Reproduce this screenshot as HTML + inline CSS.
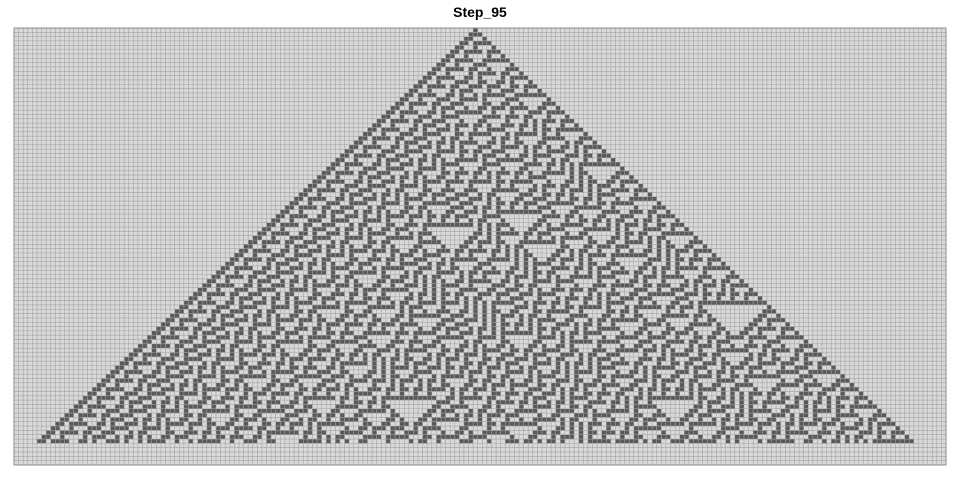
<!DOCTYPE html>
<html><head><meta charset="utf-8"><style>
html,body{margin:0;padding:0;background:#fff;width:960px;height:480px;overflow:hidden}
#title{position:absolute;left:0;width:960px;top:4px;text-align:center;font:bold 14px "Liberation Sans",sans-serif;color:#000}
svg{position:absolute;left:0;top:0}
</style></head><body>
<div id="title">Step_95</div>
<svg id="chart" width="960" height="480"></svg>
<script>
const ruleNumber = [30];
const stepCount = [95];
const gridSize = [203, 101];
const seedColumn = [100];

const X0 = 14, Y0 = 28, W = 932, H = 437;
const cols = gridSize[0], rows = gridSize[1];
const cw = W / cols, ch = H / rows;
const xs = c => X0 + c * cw;
const ys = r => Y0 + r * ch;
const NS = 'http://www.w3.org/2000/svg';
const svg = document.getElementById('chart');

const bg = document.createElementNS(NS, 'rect');
bg.setAttribute('x', X0); bg.setAttribute('y', Y0);
bg.setAttribute('width', W); bg.setAttribute('height', H);
bg.setAttribute('fill', '#d9d9d9');


svg.appendChild(bg);

// compute automaton
let row = new Array(cols).fill(0);
row[seedColumn[0]] = 1;
const rule = ruleNumber[0];
let d = '';
for (let r = 0; r <= stepCount[0] && r < rows; r++) {
  for (let c = 0; c < cols; c++) {
    if (row[c]) d += 'M' + xs(c).toFixed(2) + ' ' + ys(r).toFixed(2) + 'h' + cw.toFixed(3) + 'v' + ch.toFixed(3) + 'h' + (-cw).toFixed(3) + 'z';
  }
  const next = new Array(cols).fill(0);
  for (let c = 0; c < cols; c++) {
    const l = c > 0 ? row[c-1] : 0, m = row[c], rr = c < cols-1 ? row[c+1] : 0;
    next[c] = (rule >> (l*4 + m*2 + rr)) & 1;
  }
  row = next;
}
const cells = document.createElementNS(NS, 'path');
cells.setAttribute('d', d);
cells.setAttribute('fill', '#595959');


svg.appendChild(cells);

let g = '';
for (let c = 0; c <= cols; c++) g += 'M' + xs(c).toFixed(2) + ' ' + Y0 + 'V' + (Y0 + H);
for (let r = 0; r <= rows; r++) g += 'M' + X0 + ' ' + ys(r).toFixed(2) + 'H' + (X0 + W);
const lines = document.createElementNS(NS, 'path');
lines.setAttribute('d', g);
lines.setAttribute('stroke', '#a3a3a3');
lines.setAttribute('stroke-width', '0.6');
lines.setAttribute('fill', 'none');


svg.appendChild(lines);

const border = document.createElementNS(NS, 'rect');
border.setAttribute('x', X0); border.setAttribute('y', Y0);
border.setAttribute('width', W); border.setAttribute('height', H);
border.setAttribute('fill', 'none');
border.setAttribute('stroke', '#8c8c8c');
border.setAttribute('stroke-width', '1');


svg.appendChild(border);
</script>
</body></html>
